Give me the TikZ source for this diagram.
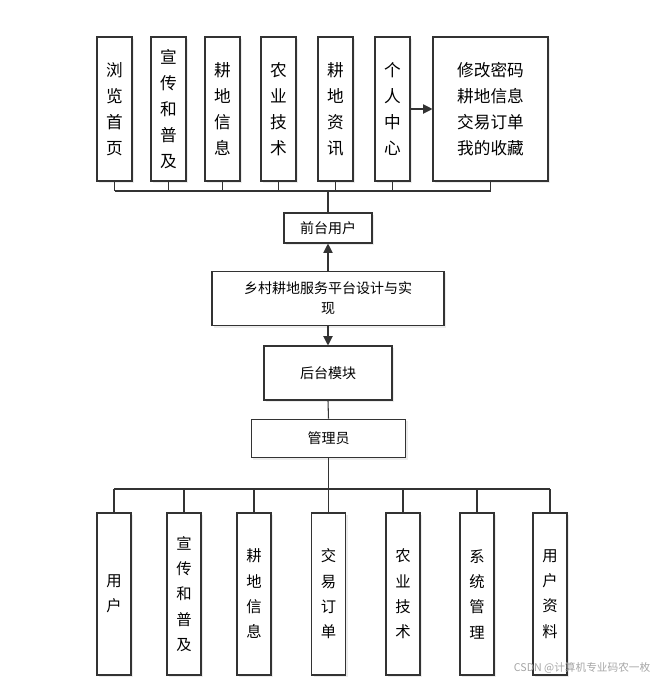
\documentclass[tikz,border=0pt]{standalone}
\usepackage{fontspec}
\setmainfont{Noto Sans CJK SC}
\usetikzlibrary{arrows.meta,shadows}
\begin{document}
\begin{tikzpicture}[x=0.75pt,y=-0.75pt,
  bx/.style={draw=black!80,fill=white,line width=0.8pt,inner sep=0pt,align=center,drop shadow={shadow xshift=1.5pt,shadow yshift=-1.5pt,opacity=0.15}},
  tb/.style={bx,minimum width=26.25pt,minimum height=108pt,font=\fontsize{12.5}{19.5}\selectfont},
  bb/.style={bx,minimum width=25.5pt,minimum height=121.5pt,font=\fontsize{11.5}{19}\selectfont},
  mb/.style={bx,font=\fontsize{10.5}{15}\selectfont},
  ln/.style={line width=0.8pt,draw=black!80},
  ar/.style={ln,-{Triangle[length=7pt,width=7pt]}}]
\useasboundingbox (0,0) rectangle (660,683);
\node[tb] (t1) at (114.5,109) {浏\\览\\首\\页};
\node[tb] (t2) at (168.5,109) {宣\\传\\和\\普\\及};
\node[tb] (t3) at (222.5,109) {耕\\地\\信\\息};
\node[tb] (t4) at (278.5,109) {农\\业\\技\\术};
\node[tb] (t5) at (335.5,109) {耕\\地\\资\\讯};
\node[tb] (t6) at (392.5,109) {个\\人\\中\\心};
\node[bx,minimum width=86.25pt,minimum height=108pt,font=\fontsize{12.5}{19.5}\selectfont] (t7) at (490.5,109) {修改密码\\耕地信息\\交易订单\\我的收藏};
\node[mb,minimum width=66pt,minimum height=22.5pt] (qt) at (328,228) {前台用户};
\node[mb,minimum width=174pt,minimum height=41pt] (tt) at (328,298.5) {乡村耕地服务平台设计与实\\现};
\node[mb,minimum width=96pt,minimum height=40.5pt] (ht) at (328,373) {后台模块};
\node[mb,minimum width=116pt,minimum height=29pt] (gl) at (328.5,438.5) {管理员};
\node[bb] (b1) at (114,594) {用\\户};
\node[bb] (b2) at (184,594) {宣\\传\\和\\普\\及};
\node[bb] (b3) at (254,594) {耕\\地\\信\\息};
\node[bb] (b4) at (328.5,594) {交\\易\\订\\单};
\node[bb] (b5) at (403,594) {农\\业\\技\\术};
\node[bb] (b6) at (477,594) {系\\统\\管\\理};
\node[bb] (b7) at (550,594) {用\\户\\资\\料};
\coordinate (h1) at (0,191);
\foreach \n in {t1,t2,t3,t4,t5,t6,t7}{\draw[ln] (\n.south) -- (\n.south |- h1);}
\draw[ln] (t1.south |- h1) -- (t7.south |- h1);
\draw[ln] (qt.north |- h1) -- (qt.north);
\draw[ar] (t6.east) -- (t7.west);
\draw[ar] (tt.north) -- (qt.south);
\draw[ar] (tt.south) -- (ht.north);
\draw[ln] (ht.south) -- (gl.north);
\coordinate (h2) at (0,489);
\draw[ln] (gl.south) -- (gl.south |- h2);
\draw[ln] (b1.north |- h2) -- (b7.north |- h2);
\foreach \n in {b1,b2,b3,b4,b5,b6,b7}{\draw[ln] (\n.north |- h2) -- (\n.north);}
\node[text=black!35,font=\fontsize{8}{9}\selectfont,anchor=east] (wm) at (655,668) {CSDN @计算机专业码农一枚};
\end{tikzpicture}
\end{document}
